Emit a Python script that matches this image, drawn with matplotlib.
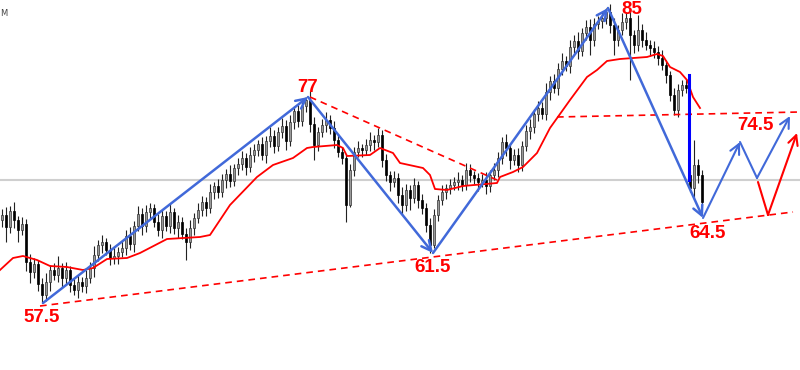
import numpy as np
import matplotlib.pyplot as plt

# closes per candle (price units), candle i sits at index i
closes = [65.5, 64.3, 65.9, 65.0, 64.0, 64.6, 60.8, 59.8, 60.6, 58.6,
          57.5, 58.8, 60.0, 59.5, 60.2, 59.2, 60.0, 58.5, 58.0, 58.8,
          58.4, 59.2, 60.2, 61.5, 62.5, 62.8, 62.0, 61.2, 61.4, 61.8,
          62.2, 63.4, 62.6, 64.4, 65.6, 64.4, 65.8, 66.2, 64.8, 64.0,
          65.4, 64.4, 65.8, 64.2, 64.8, 63.6, 62.8, 64.2, 65.2, 66.0,
          66.8, 66.2, 67.8, 68.4, 67.8, 69.0, 69.6, 68.9, 70.2, 70.6,
          71.2, 70.3, 71.5, 72.0, 72.6, 71.5, 72.9, 73.4, 72.4, 73.8,
          74.4, 72.9, 74.8, 75.9, 74.9, 76.4, 77.0, 74.6, 72.5, 73.8,
          74.5, 75.0, 74.2, 73.0, 71.8, 71.2, 66.5, 70.0, 71.8, 72.2,
          72.0, 72.5, 73.0, 72.8, 73.5, 71.0, 69.5, 68.8, 69.2, 67.5,
          66.5, 68.0, 67.2, 68.5, 67.0, 66.2, 64.5, 62.5, 65.5, 67.0,
          67.8, 68.2, 68.5, 68.8, 69.0, 68.5, 70.0, 69.5, 69.2, 68.8,
          69.0, 68.4, 69.5, 70.0, 71.2, 72.8, 72.2, 71.0, 71.5, 70.5,
          72.4, 73.9, 74.3, 75.6, 76.2, 75.6, 77.8, 78.9, 78.2, 80.1,
          80.9, 80.4, 82.3, 82.9, 81.9, 83.7, 84.3, 83.0, 84.6, 84.9,
          85.2, 85.8, 84.5, 83.0, 84.0, 84.8, 85.2, 83.5, 82.5, 84.0,
          83.0, 82.5, 82.2, 81.8, 81.2, 80.5, 79.5, 77.5, 76.0, 78.0,
          78.5, 78.2, 68.2, 70.5, 69.5, 66.8]
first_open = 65.0
gap_opens = {172: 69.5}

wick_hi = [0.6, 0.8, 0.5, 0.9, 0.4, 0.7, 0.5, 0.8, 0.6, 0.4,
           0.6, 0.9, 0.5, 0.7, 1.2, 0.5, 0.8, 0.4, 0.6, 0.7,
           0.5, 0.8, 0.6, 0.9, 0.5, 0.7, 0.4, 0.6, 1.0, 0.5,
           0.7, 0.6, 0.9, 0.5, 0.8, 0.6, 0.7, 0.5, 0.4, 0.8,
           0.6, 0.5, 0.9, 0.4, 0.7, 0.5, 0.6, 0.8, 0.5, 0.7,
           0.6, 0.5, 0.8, 0.4, 0.7, 0.6, 0.5, 0.9, 0.4, 0.6,
           0.7, 0.5, 0.8, 0.6, 0.4, 0.7, 0.5, 0.9, 0.6, 0.5,
           0.8, 0.6, 0.7, 0.5, 0.6, 0.4, 0.3, 0.9, 0.7, 0.5,
           0.6, 0.8, 0.5, 0.7, 0.6, 0.5, 0.4, 0.6, 0.5, 0.7,
           0.4, 0.6, 0.8, 0.5, 0.7, 0.5, 0.6, 0.4, 0.7, 0.5,
           0.8, 0.6, 0.5, 0.7, 0.4, 0.6, 0.5, 0.7, 0.6, 0.5,
           0.7, 0.4, 0.6, 0.5, 0.8, 0.5, 0.7, 0.6, 0.4, 0.5,
           0.6, 0.8, 0.5, 0.7, 0.6, 0.5, 0.8, 0.4, 0.6, 0.7,
           0.5, 0.6, 0.8, 0.5, 0.7, 0.6, 0.9, 0.5, 0.7, 0.6,
           0.8, 0.5, 0.7, 0.6, 0.9, 0.5, 0.7, 0.8, 0.6, 0.5,
           0.6, 0.4, 0.8, 0.7, 0.5, 0.9, 0.6, 0.8, 0.5, 1.5,
           0.6, 0.8, 0.5, 0.7, 0.6, 0.8, 0.5, 0.4, 0.7, 0.6,
           0.5, 0.6, 0.4, 2.5, 0.6, 0.5]
wick_lo = [0.7, 1.5, 0.6, 0.8, 1.2, 0.5, 0.9, 1.1, 0.6, 0.7,
           0.8, 0.6, 0.9, 0.5, 0.7, 1.0, 0.6, 0.7, 0.5, 0.8,
           0.6, 0.7, 0.5, 0.9, 0.6, 0.8, 0.5, 0.7, 0.6, 0.8,
           0.5, 0.7, 0.6, 0.8, 0.5, 0.9, 0.6, 0.7, 0.5, 0.6,
           0.8, 0.5, 0.7, 0.6, 1.0, 0.5, 1.8, 0.6, 0.7, 0.5,
           0.6, 0.8, 0.5, 0.7, 0.6, 0.5, 0.8, 0.6, 0.5, 0.7,
           0.6, 0.8, 0.5, 0.7, 0.6, 0.5, 0.8, 0.6, 0.7, 0.5,
           0.6, 0.9, 0.5, 0.7, 0.6, 0.5, 0.6, 0.8, 1.5, 0.6,
           0.5, 0.7, 0.6, 0.8, 0.5, 0.6, 1.7, 0.2, 0.6, 0.5,
           0.7, 0.5, 0.6, 0.8, 0.5, 0.7, 0.6, 0.9, 0.5, 0.8,
           1.0, 0.6, 1.2, 0.5, 0.8, 0.6, 0.7, 0.8, 0.3, 0.6,
           0.5, 0.7, 0.6, 0.5, 0.8, 0.6, 0.5, 0.7, 0.6, 0.9,
           0.5, 0.8, 0.6, 0.5, 0.7, 0.6, 0.8, 0.9, 0.5, 0.7,
           0.6, 0.5, 0.8, 0.6, 0.7, 0.5, 0.6, 0.8, 0.5, 0.7,
           0.6, 0.5, 0.7, 0.6, 0.8, 0.5, 0.7, 1.5, 0.6, 0.5,
           0.7, 0.6, 0.8, 1.5, 0.6, 0.5, 0.7, 4.5, 0.8, 0.6,
           0.7, 0.5, 0.8, 0.6, 0.7, 0.5, 0.8, 0.6, 0.5, 0.7,
           0.6, 0.5, 0.4, 1.0, 0.8, 0.3]

# moving average (red)
ma_x = [-0.5, 2.75, 5.25, 8.75, 12, 16.25, 20.25, 22.75, 26.25, 31.25, 34.5,
        41.25, 49.5, 52, 57, 63.75, 67.75, 72.75, 76.25, 77.75, 83.75, 85.25,
        86.25, 92, 94.5, 97.75, 99.5, 105.25, 107, 108.25, 111.25, 115.25,
        123.75, 124.5, 127.75, 130.25, 133.75, 137, 142, 146.25, 148.75,
        151.25, 154.5, 161.25, 163.75, 165.25, 167, 169.5, 171.25, 172.75, 174.5]
ma_y = [60.0, 61.2, 61.4, 61.0, 60.4, 60.3, 60.0, 60.2, 61.1, 61.2, 61.7,
        63.1, 63.3, 63.5, 66.5, 69.3, 70.5, 71.2, 72.2, 72.3, 72.5, 72.2,
        71.4, 71.5, 72.2, 71.7, 70.7, 70.2, 69.5, 68.1, 68.0, 68.4,
        68.7, 69.3, 69.8, 70.3, 71.7, 74.2, 77.0, 79.3, 80.0,
        80.9, 81.1, 81.3, 81.6, 81.4, 80.3, 79.8, 79.0, 77.3, 76.2]

# wave path (blue) and projection
wave_x = [10.25, 76.5, 107.75, 151.5, 175.25]
wave_y = [56.7, 77.3, 61.7, 86.2, 65.2]
proj_blue_x = [175.25, 184.5, 188.75, 197.0]
proj_blue_y = [65.2, 72.8, 69.2, 75.4]
proj_red_x = [189.0, 191.5, 198.75]
proj_red_y = [68.8, 65.5, 73.7]

# dashed red trend lines: (x0, y0, x1, y1)
trend_lines = [(9.5, 56.4, 197.75, 65.8),
               (77.0, 77.3, 123.75, 69.0),
               (138.75, 75.3, 199.5, 75.8)]

labels = ['57.5', '77', '61.5', '85', '64.5', '74.5']
label_x = [10, 76.5, 107.75, 157.5, 176.5, 188.25]
label_y = [55.2, 78.3, 60.2, 86.1, 63.6, 74.4]

gray_level = 69.0
drop_x = 171.75
drop_top, drop_bottom = 79.5, 69.0

opens = [first_open] + closes[:-1]
for k, v in gap_opens.items():
    opens[k] = v
o = np.array(opens)
c = np.array(closes)
highs = np.maximum(o, c) + np.array(wick_hi)
lows = np.minimum(o, c) - np.array(wick_lo)
idx = np.arange(len(closes))

fig = plt.figure(figsize=(8, 3.7), dpi=100)
ax = fig.add_axes([0, 0, 1, 1])
ax.set_xlim(-0.5, 199.5)
ax.set_ylim(50, 87)
ax.axis('off')

ax.axhline(gray_level, color='#cfcfcf', lw=1.5, zorder=1)

# candles
up = c >= o
ax.vlines(idx, lows, highs, color='#222222', lw=0.8, zorder=2)
body = np.where(np.abs(c - o) < 0.15, 0.15, c - o)
ax.bar(idx[up], body[up], bottom=o[up], width=0.65, color='#9a9a9a',
       edgecolor='#333333', linewidth=0.5, zorder=3)
ax.bar(idx[~up], body[~up], bottom=o[~up], width=0.65, color='black',
       edgecolor='black', linewidth=0.5, zorder=3)

ax.plot(ma_x, ma_y, color='red', lw=1.3, zorder=4)

for x0, y0, x1, y1 in trend_lines:
    ax.plot([x0, x1], [y0, y1], color='red', lw=1.2, ls=(0, (4, 3)), zorder=4)

ax.plot([drop_x, drop_x], [drop_top, drop_bottom], color='#0000ff', lw=2.2, zorder=5)

head = '->,head_length=0.7,head_width=0.35'
blue = '#4169d9'
for i in range(len(wave_x) - 1):
    ax.annotate('', xy=(wave_x[i + 1], wave_y[i + 1]), xytext=(wave_x[i], wave_y[i]),
                arrowprops=dict(arrowstyle=head, color=blue, lw=1.8,
                                shrinkA=0, shrinkB=0), zorder=6)

for i in range(len(proj_blue_x) - 1):
    style = '-' if i == 1 else head
    ax.annotate('', xy=(proj_blue_x[i + 1], proj_blue_y[i + 1]),
                xytext=(proj_blue_x[i], proj_blue_y[i]),
                arrowprops=dict(arrowstyle=style, color=blue, lw=1.5,
                                shrinkA=0, shrinkB=0), zorder=6)

for i in range(len(proj_red_x) - 1):
    style = '-' if i == 0 else head
    ax.annotate('', xy=(proj_red_x[i + 1], proj_red_y[i + 1]),
                xytext=(proj_red_x[i], proj_red_y[i]),
                arrowprops=dict(arrowstyle=style, color='red', lw=1.5,
                                shrinkA=0, shrinkB=0), zorder=6)

for t, x, y in zip(labels, label_x, label_y):
    ax.text(x, y, t, color='red', fontsize=13.5, fontweight='bold',
            family='Liberation Sans', ha='center', va='center', zorder=7)

ax.text(-0.5, 85.7, 'M', color='#444444', fontsize=6, ha='left', va='center')

fig.savefig('out.png', dpi=100)
